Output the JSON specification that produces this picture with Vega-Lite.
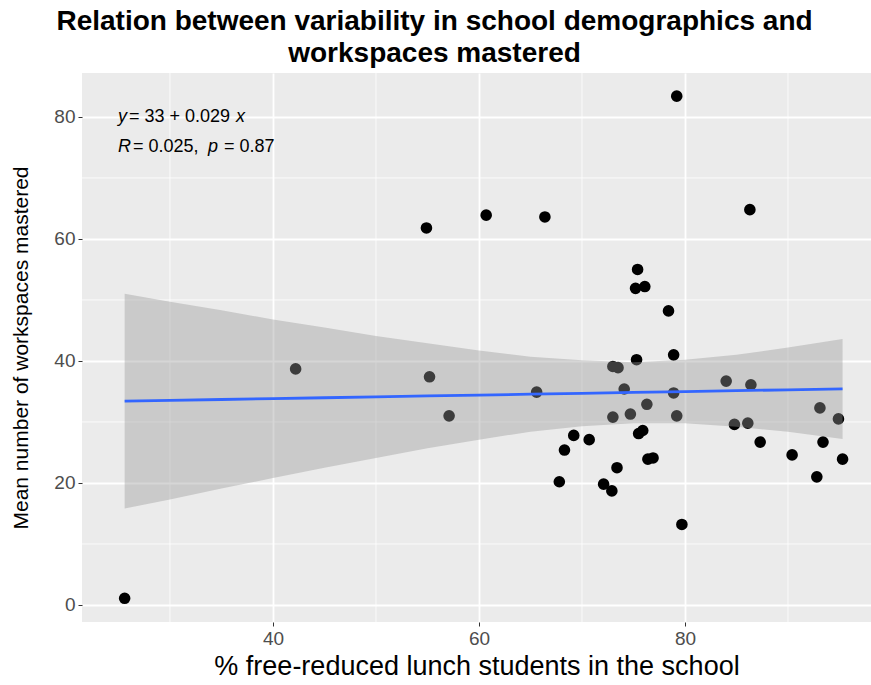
{
  "$schema": "https://vega.github.io/schema/vega-lite/v6.json",
  "width": 789,
  "height": 549,
  "autosize": "none",
  "padding": {"left": 82, "top": 73, "right": 0, "bottom": 63},
  "background": "white",
  "title": {
    "text": ["Relation between variability in school demographics and", "workspaces mastered"],
    "font": "Liberation Sans",
    "fontSize": 28,
    "fontWeight": "bold",
    "color": "black",
    "anchor": "middle",
    "dx": -42,
    "offset": 5,
    "lineHeight": 32
  },
  "config": {
    "view": {"fill": "#EBEBEB", "stroke": null},
    "axis": {
      "domain": false,
      "grid": true,
      "gridColor": "white",
      "gridWidth": 1.8,
      "tickColor": "#333333",
      "tickSize": 4,
      "tickWidth": 1,
      "labelFont": "Liberation Sans",
      "labelFontSize": 19,
      "labelColor": "#4D4D4D",
      "labelPadding": 3,
      "titleFont": "Liberation Sans",
      "titleFontWeight": "normal",
      "titleColor": "black"
    },
    "axisX": {"titleFontSize": 27, "titlePadding": 5},
    "axisY": {"titleFontSize": 21, "titlePadding": 22}
  },
  "datasets": {
    "schools": [
      {"frl": 25.6, "mastered": 1.1},
      {"frl": 42.2, "mastered": 38.7},
      {"frl": 54.9, "mastered": 61.8},
      {"frl": 55.2, "mastered": 37.4},
      {"frl": 57.1, "mastered": 31.0},
      {"frl": 60.7, "mastered": 63.9},
      {"frl": 65.6, "mastered": 34.9},
      {"frl": 66.4, "mastered": 63.6},
      {"frl": 67.8, "mastered": 20.2},
      {"frl": 68.3, "mastered": 25.4},
      {"frl": 69.2, "mastered": 27.8},
      {"frl": 70.7, "mastered": 27.1},
      {"frl": 72.1, "mastered": 19.8},
      {"frl": 72.9, "mastered": 18.7},
      {"frl": 73.0, "mastered": 30.8},
      {"frl": 73.0, "mastered": 39.1},
      {"frl": 73.5, "mastered": 38.9},
      {"frl": 73.4, "mastered": 22.5},
      {"frl": 74.1, "mastered": 35.4},
      {"frl": 74.7, "mastered": 31.3},
      {"frl": 75.2, "mastered": 51.9},
      {"frl": 75.3, "mastered": 40.2},
      {"frl": 75.4, "mastered": 55.0},
      {"frl": 75.5, "mastered": 28.1},
      {"frl": 75.9, "mastered": 28.6},
      {"frl": 76.1, "mastered": 52.2},
      {"frl": 76.3, "mastered": 32.9},
      {"frl": 76.4, "mastered": 23.9},
      {"frl": 76.9, "mastered": 24.1},
      {"frl": 78.4, "mastered": 48.2},
      {"frl": 78.9, "mastered": 41.0},
      {"frl": 78.9, "mastered": 34.75},
      {"frl": 79.2, "mastered": 31.0},
      {"frl": 79.2, "mastered": 83.4},
      {"frl": 79.7, "mastered": 13.2},
      {"frl": 84.0, "mastered": 36.7},
      {"frl": 84.8, "mastered": 29.6},
      {"frl": 86.1, "mastered": 29.8},
      {"frl": 86.4, "mastered": 36.1},
      {"frl": 86.3, "mastered": 64.8},
      {"frl": 87.3, "mastered": 26.7},
      {"frl": 90.4, "mastered": 24.6},
      {"frl": 92.8, "mastered": 21.0},
      {"frl": 93.1, "mastered": 32.3},
      {"frl": 93.4, "mastered": 26.7},
      {"frl": 94.9, "mastered": 30.5},
      {"frl": 95.3, "mastered": 23.9}
    ],
    "fit": [
      {"frl": 25.6, "fit": 33.40, "lo": 15.8, "hi": 51.0},
      {"frl": 30, "fit": 33.53, "lo": 17.3, "hi": 49.7},
      {"frl": 35, "fit": 33.68, "lo": 19.1, "hi": 48.3},
      {"frl": 40, "fit": 33.82, "lo": 20.8, "hi": 46.8},
      {"frl": 45, "fit": 33.97, "lo": 22.5, "hi": 45.5},
      {"frl": 50, "fit": 34.11, "lo": 24.1, "hi": 44.1},
      {"frl": 55, "fit": 34.26, "lo": 25.7, "hi": 42.9},
      {"frl": 60, "fit": 34.40, "lo": 27.1, "hi": 41.7},
      {"frl": 65, "fit": 34.55, "lo": 28.4, "hi": 40.7},
      {"frl": 70, "fit": 34.69, "lo": 29.3, "hi": 40.1},
      {"frl": 75, "fit": 34.84, "lo": 29.8, "hi": 39.8},
      {"frl": 80, "fit": 34.98, "lo": 29.8, "hi": 40.2},
      {"frl": 85, "fit": 35.13, "lo": 29.2, "hi": 41.0},
      {"frl": 90, "fit": 35.27, "lo": 28.4, "hi": 42.2},
      {"frl": 95.3, "fit": 35.42, "lo": 27.2, "hi": 43.6}
    ],
    "minorX": [{"frl": 30}, {"frl": 50}, {"frl": 70}, {"frl": 90}],
    "minorY": [{"mastered": 10}, {"mastered": 30}, {"mastered": 50}, {"mastered": 70}],
    "note": [{"frl": 24.95, "line1": 80, "line2": 75}]
  },
  "layer": [
    {
      "data": {"name": "minorX"},
      "mark": {"type": "rule", "color": "white", "strokeWidth": 0.8},
      "encoding": {
        "x": {
          "field": "frl", "type": "quantitative",
          "scale": {"domain": [21.46, 98.06], "nice": false, "zero": false},
          "axis": {"values": [40, 60, 80], "title": "% free-reduced lunch students in the school"}
        }
      }
    },
    {
      "data": {"name": "minorY"},
      "mark": {"type": "rule", "color": "white", "strokeWidth": 0.8},
      "encoding": {
        "y": {
          "field": "mastered", "type": "quantitative",
          "scale": {"domain": [-2.79, 87.2], "nice": false, "zero": false},
          "axis": {"values": [0, 20, 40, 60, 80], "title": "Mean number of workspaces mastered"}
        }
      }
    },
    {
      "data": {"name": "schools"},
      "mark": {"type": "circle", "color": "black", "size": 135, "opacity": 1},
      "encoding": {
        "x": {"field": "frl", "type": "quantitative", "title": "% free-reduced lunch students in the school"},
        "y": {"field": "mastered", "type": "quantitative", "title": "Mean number of workspaces mastered"}
      }
    },
    {
      "data": {"name": "fit"},
      "mark": {"type": "area", "color": "#999999", "opacity": 0.4},
      "encoding": {
        "x": {"field": "frl", "type": "quantitative", "title": "% free-reduced lunch students in the school"},
        "y": {"field": "lo", "type": "quantitative", "title": "Mean number of workspaces mastered"},
        "y2": {"field": "hi"}
      }
    },
    {
      "data": {"name": "fit"},
      "mark": {"type": "line", "color": "#3366FF", "strokeWidth": 2.8},
      "encoding": {
        "x": {"field": "frl", "type": "quantitative", "title": "% free-reduced lunch students in the school"},
        "y": {"field": "fit", "type": "quantitative", "title": "Mean number of workspaces mastered"}
      }
    },
    {
      "data": {"name": "note"},
      "mark": {"type": "text", "text": "y", "fontStyle": "italic", "align": "left", "baseline": "middle", "font": "Liberation Sans", "fontSize": 18, "color": "black"},
      "encoding": {
        "x": {"field": "frl", "type": "quantitative", "title": "% free-reduced lunch students in the school"},
        "y": {"field": "line1", "type": "quantitative", "title": "Mean number of workspaces mastered"}
      }
    },
    {
      "data": {"name": "note"},
      "mark": {"type": "text", "text": "= 33 + 0.029", "dx": 11, "align": "left", "baseline": "middle", "font": "Liberation Sans", "fontSize": 18, "color": "black"},
      "encoding": {
        "x": {"field": "frl", "type": "quantitative", "title": "% free-reduced lunch students in the school"},
        "y": {"field": "line1", "type": "quantitative", "title": "Mean number of workspaces mastered"}
      }
    },
    {
      "data": {"name": "note"},
      "mark": {"type": "text", "text": "x", "dx": 118, "fontStyle": "italic", "align": "left", "baseline": "middle", "font": "Liberation Sans", "fontSize": 18, "color": "black"},
      "encoding": {
        "x": {"field": "frl", "type": "quantitative", "title": "% free-reduced lunch students in the school"},
        "y": {"field": "line1", "type": "quantitative", "title": "Mean number of workspaces mastered"}
      }
    },
    {
      "data": {"name": "note"},
      "mark": {"type": "text", "text": "R", "fontStyle": "italic", "align": "left", "baseline": "middle", "font": "Liberation Sans", "fontSize": 18, "color": "black"},
      "encoding": {
        "x": {"field": "frl", "type": "quantitative", "title": "% free-reduced lunch students in the school"},
        "y": {"field": "line2", "type": "quantitative", "title": "Mean number of workspaces mastered"}
      }
    },
    {
      "data": {"name": "note"},
      "mark": {"type": "text", "text": "= 0.025,", "dx": 15, "align": "left", "baseline": "middle", "font": "Liberation Sans", "fontSize": 18, "color": "black"},
      "encoding": {
        "x": {"field": "frl", "type": "quantitative", "title": "% free-reduced lunch students in the school"},
        "y": {"field": "line2", "type": "quantitative", "title": "Mean number of workspaces mastered"}
      }
    },
    {
      "data": {"name": "note"},
      "mark": {"type": "text", "text": "p", "dx": 90, "fontStyle": "italic", "align": "left", "baseline": "middle", "font": "Liberation Sans", "fontSize": 18, "color": "black"},
      "encoding": {
        "x": {"field": "frl", "type": "quantitative", "title": "% free-reduced lunch students in the school"},
        "y": {"field": "line2", "type": "quantitative", "title": "Mean number of workspaces mastered"}
      }
    },
    {
      "data": {"name": "note"},
      "mark": {"type": "text", "text": "= 0.87", "dx": 106, "align": "left", "baseline": "middle", "font": "Liberation Sans", "fontSize": 18, "color": "black"},
      "encoding": {
        "x": {"field": "frl", "type": "quantitative", "title": "% free-reduced lunch students in the school"},
        "y": {"field": "line2", "type": "quantitative", "title": "Mean number of workspaces mastered"}
      }
    }
  ]
}
